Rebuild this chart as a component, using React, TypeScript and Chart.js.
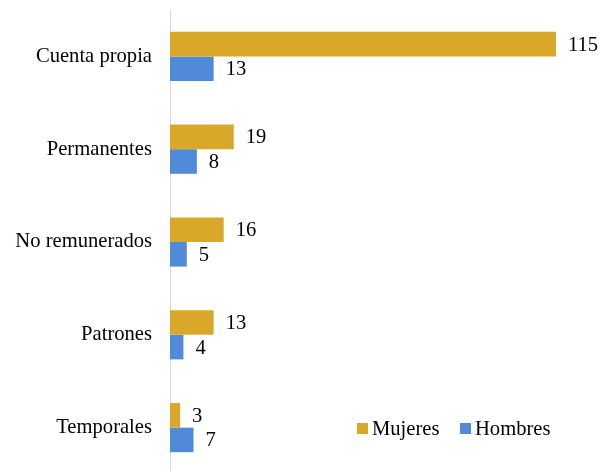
import React, { useEffect, useRef } from "react";
import { Chart, registerables } from "chart.js";

Chart.register(...registerables);

const categories = ["Cuenta propia", "Permanentes", "No remunerados", "Patrones", "Temporales"];
const mujeres = [115, 19, 16, 13, 3];
const hombres = [13, 8, 5, 4, 7];
const seriesNames = ["Mujeres", "Hombres"];

const GOLD = "#DAA829";
const BLUE = "#508AD8";
const FONT = '"Liberation Serif", "Times New Roman", serif';
const FS = 20.6;

const valueLabels = {
  id: "valueLabels",
  afterDatasetsDraw(chart: any) {
    const ctx = chart.ctx;
    ctx.save();
    ctx.font = `${FS}px ${FONT}`;
    ctx.fillStyle = "#000";
    ctx.textAlign = "left";
    ctx.textBaseline = "middle";
    chart.data.datasets.forEach((ds: any, i: number) => {
      const meta = chart.getDatasetMeta(i);
      meta.data.forEach((bar: any, j: number) => {
        ctx.fillText(String(ds.data[j]), bar.x + 12, bar.y + 1);
      });
    });
    ctx.restore();
  },
};

const customLegend = {
  id: "customLegend",
  afterDraw(chart: any) {
    const ctx = chart.ctx;
    ctx.save();
    ctx.font = `${FS}px ${FONT}`;
    ctx.textBaseline = "middle";
    ctx.textAlign = "left";
    const items = [
      { x: 357, color: GOLD, label: chart.data.datasets[0].label },
      { x: 460, color: BLUE, label: chart.data.datasets[1].label },
    ];
    const y = 428.5;
    items.forEach((it) => {
      ctx.fillStyle = it.color;
      ctx.fillRect(it.x, y - 5.5, 11, 11);
      ctx.fillStyle = "#000";
      ctx.fillText(it.label, it.x + 15, y + 1);
    });
    ctx.restore();
  },
};

export default function App() {
  const ref = useRef<HTMLCanvasElement>(null);
  useEffect(() => {
    document.body.style.margin = "0";
    document.body.style.overflow = "hidden";
    const chart = new Chart(ref.current!, {
      type: "bar",
      data: {
        labels: categories,
        datasets: [
          { label: seriesNames[0], data: mujeres, backgroundColor: GOLD, categoryPercentage: 0.53, barPercentage: 1 },
          { label: seriesNames[1], data: hombres, backgroundColor: BLUE, categoryPercentage: 0.53, barPercentage: 1 },
        ],
      },
      options: {
        indexAxis: "y",
        animation: false,
        responsive: false,
        maintainAspectRatio: false,
        layout: { padding: { top: 10, bottom: 0, left: 0, right: 0 } },
        plugins: { legend: { display: false }, tooltip: { enabled: false } },
        scales: {
          x: {
            min: 0,
            max: 129,
            display: false,
          },
          y: {
            grid: { display: false, drawTicks: false },
            border: { display: true, color: "#D9D9D9", width: 1 },
            ticks: { color: "#000", font: { family: FONT, size: FS }, padding: 18 },
            afterFit(scale: any) {
              scale.width = 170;
              scale.paddingTop = 0;
              scale.paddingBottom = 0;
            },
          },
        },
      },
      plugins: [valueLabels, customLegend],
    });
    return () => chart.destroy();
  }, []);
  return (
    <div style={{ width: 603, height: 474 }}>
      <canvas ref={ref} width={603} height={474} style={{ display: "block" }} />
    </div>
  );
}
